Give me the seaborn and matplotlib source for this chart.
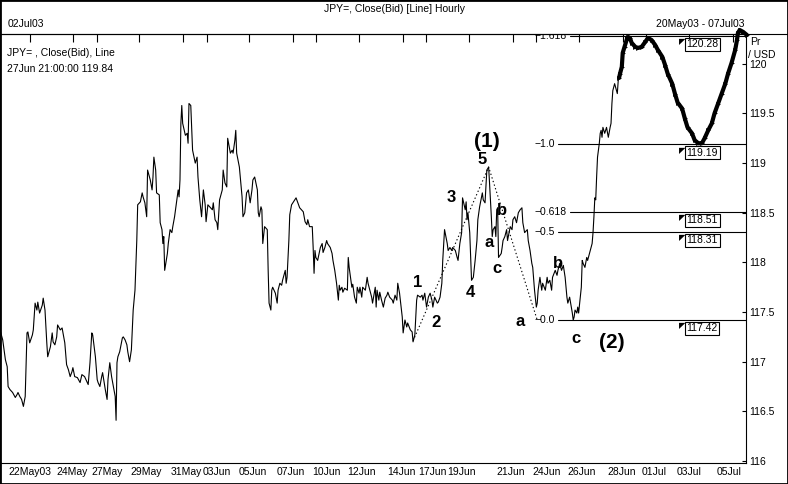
import numpy as np
import pandas as pd
import matplotlib
matplotlib.use("Agg")
import matplotlib.pyplot as plt
import matplotlib.transforms as mtransforms
from matplotlib.lines import Line2D
from matplotlib.patches import Rectangle
import seaborn as sns

# JPY= hourly close, hours counted from the first bar on the chart
hours_a = [0, 3, 6, 8, 9, 11, 14, 17, 19, 20, 22, 24, 26, 28, 30, 31, 33, 36, 37, 39,
           41, 42, 44, 47, 48, 50, 52, 53, 56, 58, 59, 61, 63, 64, 67, 69, 70, 72, 74, 76,
           78, 80, 81, 83, 86, 89, 91, 94, 98, 100, 102, 103, 106, 108, 109, 111, 113, 114, 117, 119,
           120, 122, 124, 126, 128, 129, 130, 131, 133, 136, 137, 139, 141, 142, 144, 146, 148, 150, 152, 153]
close_a = [117.32, 117.22, 117.02, 116.95, 116.75, 116.72, 116.69, 116.64, 116.67, 116.69,
           116.65, 116.62, 116.55, 116.65, 117.29, 117.30, 117.19, 117.27, 117.32, 117.59,
           117.52, 117.60, 117.49, 117.57, 117.64, 117.52, 117.19, 117.05, 117.15, 117.29,
           117.20, 117.17, 117.25, 117.37, 117.32, 117.34, 117.29, 117.19, 116.97, 116.92,
           116.85, 116.90, 116.94, 116.85, 116.84, 116.79, 116.87, 116.85, 116.77, 116.99,
           117.29, 117.27, 117.05, 116.82, 116.79, 116.75, 116.85, 116.89, 116.72, 116.62,
           116.82, 116.99, 116.85, 116.75, 116.65, 116.41, 116.99, 117.05, 117.10, 117.24,
           117.25, 117.22, 117.17, 117.10, 117.00, 117.12, 117.52, 117.72, 118.22, 118.58]

hours_b = [156, 158, 159, 161, 163, 164, 167, 169, 170, 171, 173, 174, 177, 178, 180, 181, 182, 183, 186, 187,
           189, 191, 192, 194, 197, 198, 199, 200, 201, 202, 203, 206, 208, 209, 210, 212, 213, 214, 217, 219,
           220, 222, 224, 226, 228, 229, 231, 233, 236, 237, 239, 241, 242, 244, 247, 248, 250, 252, 253, 256,
           258, 259, 261, 262, 263, 266, 268, 269, 270, 272, 274, 276, 278, 280, 281, 283, 286, 287, 288, 290,
           291, 292, 294, 297, 298, 299, 301, 302, 303, 306, 308, 309, 311]
close_b = [118.61, 118.70, 118.66, 118.60, 118.46, 118.93, 118.83, 118.73, 118.86, 119.06,
           118.93, 118.70, 118.68, 118.40, 118.33, 118.19, 118.26, 117.92, 118.09, 118.19,
           118.33, 118.30, 118.36, 118.46, 118.66, 118.73, 118.66, 118.83, 119.40, 119.58,
           119.40, 119.28, 119.30, 119.20, 119.60, 119.58, 119.36, 119.13, 119.00, 119.06,
           118.86, 118.63, 118.46, 118.73, 118.58, 118.41, 118.58, 118.56, 118.53, 118.60,
           118.43, 118.40, 118.33, 118.63, 118.73, 118.93, 118.80, 118.76, 119.25, 119.10,
           119.13, 119.10, 119.23, 119.33, 119.10, 118.96, 118.76, 118.66, 118.46, 118.50,
           118.70, 118.73, 118.60, 118.73, 118.83, 118.86, 118.73, 118.50, 118.46, 118.56,
           118.53, 118.19, 118.36, 118.33, 117.92, 117.59, 117.52, 117.72, 117.75, 117.69,
           117.59, 117.72, 117.79]

hours_c = [313, 314, 317, 318, 319, 321, 322, 324, 329, 333, 337, 339, 341, 342, 344, 347, 348, 349, 350, 351,
           353, 356, 358, 359, 361, 363, 364, 367, 369, 370, 372, 374, 376, 377, 378, 380, 381, 383, 386, 387,
           388, 390, 391, 392, 394, 396, 397, 399, 400, 402, 403, 406, 408, 409, 411, 413, 414, 417, 418, 419,
           421, 422, 424, 426, 428, 430, 431, 433, 436, 437, 439, 441, 442, 444, 447, 448, 450, 452, 453, 456,
           458, 459, 461, 463, 464, 467]
close_c = [117.77, 117.82, 117.92, 117.79, 117.85, 118.22, 118.48, 118.58, 118.65, 118.55,
           118.51, 118.41, 118.38, 118.43, 118.36, 118.36, 118.15, 117.89, 118.12, 118.05,
           118.02, 118.15, 118.19, 118.10, 118.15, 118.22, 118.19, 118.15, 118.09, 118.02,
           117.92, 117.79, 117.62, 117.77, 117.72, 117.75, 117.70, 117.74, 117.72, 118.05,
           117.95, 117.82, 117.75, 117.78, 117.65, 117.59, 117.75, 117.69, 117.75, 117.65,
           117.75, 117.72, 117.85, 117.79, 117.72, 117.65, 117.59, 117.75, 117.55, 117.72,
           117.62, 117.70, 117.62, 117.55, 117.64, 117.67, 117.70, 117.65, 117.62, 117.59,
           117.67, 117.62, 117.79, 117.69, 117.45, 117.29, 117.42, 117.35, 117.39, 117.32,
           117.30, 117.20, 117.27, 117.62, 117.67, 117.65]

hours_d = [469, 470, 472, 474, 476, 478, 480, 481, 483, 486, 487, 489, 491, 492, 494, 497, 498, 500, 502, 503,
           506, 508, 509, 511, 513, 514, 517, 518, 519, 520, 522, 524, 526, 528, 530, 531, 533, 536, 537, 539,
           540, 541, 543, 544, 546, 547, 548, 550, 551, 552, 553, 554, 557, 558, 559, 561, 563, 564, 567, 569,
           570, 572, 574, 576, 578, 580, 581, 583, 586, 587, 589, 591, 592, 594, 596, 597, 598, 600, 602, 603,
           606, 608, 609, 611]
close_d = [117.67, 117.62, 117.69, 117.55, 117.65, 117.69, 117.62, 117.55, 117.65, 117.59,
           117.60, 117.65, 117.79, 118.02, 118.33, 118.19, 118.12, 118.15, 118.12, 118.15,
           118.12, 118.05, 118.02, 118.19, 118.30, 118.65, 118.53, 118.61, 118.43, 118.50,
           118.30, 117.82, 117.85, 118.02, 118.22, 118.43, 118.56, 118.70, 118.63, 118.60,
           118.76, 118.93, 118.96, 118.80, 118.46, 118.26, 118.33, 118.36, 118.26, 118.53,
           118.55, 118.05, 118.09, 118.15, 118.22, 118.26, 118.33, 118.22, 118.36, 118.33,
           118.43, 118.46, 118.40, 118.50, 118.53, 118.55, 118.40, 118.30, 118.33, 118.22,
           118.12, 117.99, 117.95, 117.72, 117.55, 117.59, 117.72, 117.85, 117.72, 117.79,
           117.72, 117.85, 117.79, 117.82]

hours_e = [613, 614, 617, 619, 620, 622, 624, 626, 628, 630, 631, 633, 636, 637, 638, 639, 641, 642, 643, 646,
           647, 648, 650, 652, 653, 656, 658, 659, 660, 661, 662, 663, 664, 666, 667, 668, 669, 670, 672, 674,
           676, 678, 679, 680, 681, 683, 686, 687, 688]
close_e = [117.72, 117.85, 117.92, 117.87, 117.92, 117.99, 117.92, 117.97, 117.85, 117.65,
           117.59, 117.65, 117.49, 117.42, 117.45, 117.52, 117.49, 117.55, 117.49, 117.75,
           118.02, 117.99, 117.95, 118.05, 118.02, 118.12, 118.19, 118.30, 118.46, 118.65,
           118.63, 118.86, 119.06, 119.20, 119.30, 119.33, 119.26, 119.36, 119.30, 119.36,
           119.26, 119.36, 119.40, 119.60, 119.73, 119.80, 119.70, 119.83, 119.86]

# last stretch, drawn bold
hours_bold = [688, 689, 691, 692, 694, 697, 698, 700, 702, 706, 709, 713, 717, 720, 724,
              728, 731, 736, 739, 742, 747, 750, 753, 758, 761, 764, 769, 772, 776, 780,
              783, 787, 791, 794, 798, 802, 806, 809, 813, 817, 819, 820, 822, 826, 830]
close_bold = [119.86, 119.90, 119.97, 120.11, 120.17, 120.26, 120.27, 120.26, 120.21, 120.17,
              120.16, 120.17, 120.22, 120.26, 120.24, 120.19, 120.14, 120.07, 119.99, 119.90,
              119.80, 119.70, 119.61, 119.55, 119.45, 119.36, 119.30, 119.23, 119.20, 119.20,
              119.25, 119.33, 119.40, 119.50, 119.60, 119.70, 119.80, 119.90, 120.01, 120.14,
              120.24, 120.31, 120.34, 120.32, 120.29]

tick_hours = [33, 81, 108, 154, 203, 230, 277, 326, 351, 399, 448, 473, 521, 570, 596, 643, 692, 718, 766, 814]
# the chart shifts crowded date labels sideways, so they sit at their own spots
label_hours = [33, 80, 119, 162, 207, 241, 281, 323, 363, 402, 446, 480, 513, 568, 607, 646, 691, 727, 766, 810]
tick_labels = ["22May03", "24May", "27May", "29May", "31May", "03Jun", "05Jun", "07Jun", "10Jun", "12Jun",
               "14Jun", "17Jun", "19Jun", "21Jun", "24Jun", "26Jun", "28Jun", "01Jul", "03Jul", "05Jul"]
price_ticks = [116, 116.5, 117, 117.5, 118, 118.5, 119, 119.5, 120]

# fibonacci retracement levels
fib_levels = [120.28, 119.19, 118.51, 118.31, 117.42]
fib_names = ["\u22121.618", "\u22121.0", "\u22120.618", "\u22120.5", "\u22120.0"]
fib_start = [633, 620, 633, 620, 620]

# elliott wave count
wave_text = ["(1)", "5", "3", "b", "a", "c", "1", "4", "2", "a", "b", "c", "(2)"]
wave_h = [541, 536, 501, 558, 544, 552, 464, 523, 484, 578, 620, 640, 680]
wave_p = [119.22, 119.04, 118.65, 118.52, 118.20, 117.94, 117.80, 117.70, 117.39, 117.40, 117.99, 117.23, 117.19]
path_h = [459, 543, 597]
path_p = [117.21, 118.96, 117.42]

series = pd.DataFrame({
    "hour": hours_a + hours_b + hours_c + hours_d + hours_e,
    "close": close_a + close_b + close_c + close_d + close_e,
})
bold = pd.DataFrame({"hour": hours_bold, "close": close_bold})

sns.set_style("white")
plt.rcParams["font.family"] = ["Liberation Sans", "DejaVu Sans"]
plt.rcParams.update({"text.color": "black", "axes.labelcolor": "black",
                     "xtick.color": "black", "ytick.color": "black"})

fig = plt.figure(figsize=(7.88, 4.84), dpi=100)
ax = fig.add_axes([0.0, 21 / 484, 746 / 788, 429 / 484])

sns.lineplot(data=series, x="hour", y="close", ax=ax, color="black", lw=0.8,
             sort=False, estimator=None)
sns.lineplot(data=bold, x="hour", y="close", ax=ax, color="black", lw=3.0,
             sort=False, estimator=None, clip_on=False,
             marker=">", markersize=3.5, markeredgewidth=0)

ax.plot(path_h, path_p, color="black", lw=0.8, ls=(0, (1.2, 2.2)))

xmax = 829
for lvl, name, start in zip(fib_levels, fib_names, fib_start):
    ax.plot([start, xmax], [lvl, lvl], color="black", lw=0.8)
    ax.text(594, lvl, name, fontsize=7.5, va="center", ha="left", clip_on=True)
    ax.annotate("\u25e4", xy=(754, lvl), xytext=(0, -1), textcoords="offset points",
                fontsize=6, va="top", ha="left", family="DejaVu Sans")
    ax.annotate(f"{lvl:.2f}", xy=(763, lvl), xytext=(0, -2.5), textcoords="offset points",
                fontsize=7.5, va="top", ha="left",
                bbox=dict(boxstyle="square,pad=0.15", fc="white", ec="black", lw=0.8))

for t, h, p in zip(wave_text, wave_h, wave_p):
    size = 15 if t.startswith("(") else 12
    ax.text(h, p, t, fontsize=size, fontweight="bold", ha="center", va="center", color="black")

ax.text(0.01, 0.955, "JPY= , Close(Bid), Line", transform=ax.transAxes, fontsize=7.5, va="center")
ax.text(0.01, 0.918, "27Jun 21:00:00 119.84", transform=ax.transAxes, fontsize=7.5, va="center")

ax.set_xlim(0, xmax)
ax.set_ylim(115.98, 120.30)
ax.set_xticks(tick_hours)
ax.set_xticklabels([])
trans = mtransforms.blended_transform_factory(ax.transData, ax.transAxes)
for h, lab in zip(label_hours, tick_labels):
    ax.text(h, -9 / 429, lab, transform=trans, fontsize=7.5, ha="center", va="center", clip_on=False)
ax.set_yticks(price_ticks)
ax.set_yticklabels([f"{v:g}" for v in price_ticks])
ax.yaxis.tick_right()
ax.tick_params(axis="y", direction="in", length=3, labelsize=7.5, pad=2, width=0.8)
ax.tick_params(axis="x", direction="in", length=6, top=True, width=0.8)
ax.set_xlabel("")
ax.set_ylabel("")
for s in ax.spines.values():
    s.set_color("black")
    s.set_linewidth(0.8)

# header and frame
fig.add_artist(Line2D([0, 1], [1 - 34 / 484, 1 - 34 / 484], color="black", lw=0.8))
fig.add_artist(Rectangle((0, 0), 1, 1, transform=fig.transFigure, fill=False, ec="black", lw=2))
fig.text(0.5, 1 - 9 / 484, "JPY=, Close(Bid) [Line] Hourly", ha="center", va="center", fontsize=7.5)
fig.text(8 / 788, 1 - 24 / 484, "02Jul03", ha="left", va="center", fontsize=7.5)
fig.text(745 / 788, 1 - 24 / 484, "20May03 - 07Jul03", ha="right", va="center", fontsize=7.5)
fig.text(750 / 788, 1 - 42 / 484, "Pr", ha="left", va="center", fontsize=7.5)
fig.text(748 / 788, 1 - 55 / 484, "/ USD", ha="left", va="center", fontsize=7.5)

fig.savefig("out.png", dpi=100)
